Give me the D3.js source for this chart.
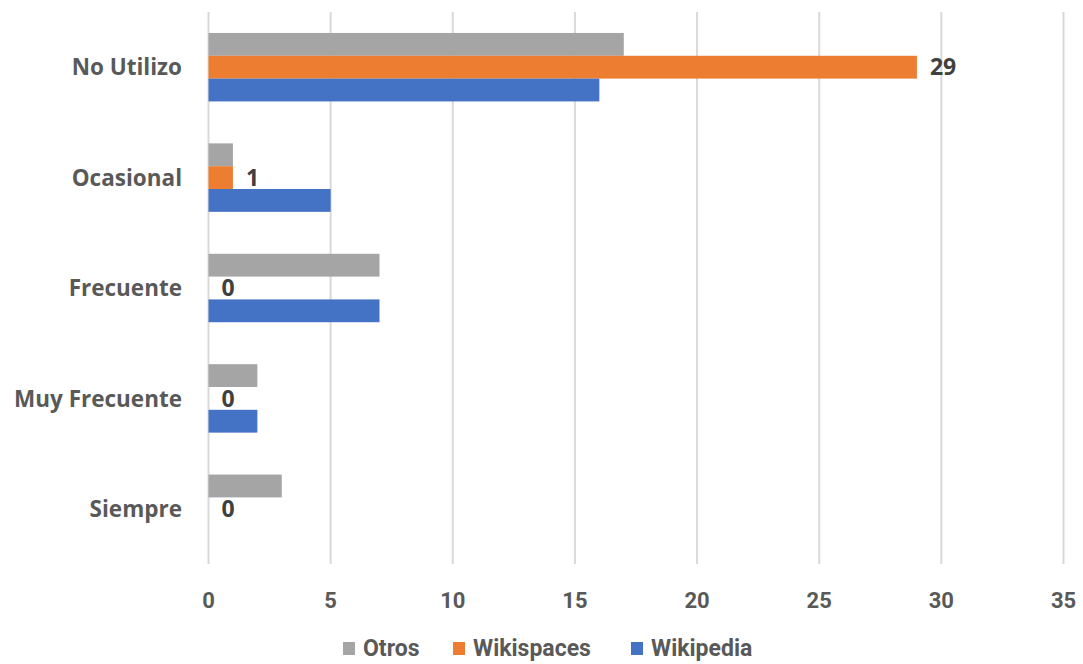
<!DOCTYPE html>
<html>
<head>
<meta charset="utf-8">
<script src="https://cdn.jsdelivr.net/npm/d3@7"></script>
<style>
  body { margin: 0; background: #fff; }
  .cat { font-family: "Open Sans", sans-serif; font-weight: 700; font-size: 22.5px; fill: #595959; }
  .val { font-family: "Open Sans", sans-serif; font-weight: 700; font-size: 23px; fill: #404040; }
  .tick-lbl, .leg { font-family: "Roboto", sans-serif; font-weight: 700; fill: #595959; }
</style>
</head>
<body>
<svg id="chart" width="1083" height="664"></svg>
<script>
var categories = ["No Utilizo", "Ocasional", "Frecuente", "Muy Frecuente", "Siempre"];
var series     = ["Otros", "Wikispaces", "Wikipedia"];
var colors     = ["#A5A5A5", "#ED7D31", "#4472C4"];
var otros      = [17, 1, 7, 2, 3];
var wikispaces = [29, 1, 0, 0, 0];
var wikipedia  = [16, 5, 7, 2, 0];
var xTicks     = [0, 5, 10, 15, 20, 25, 30, 35];

var values = { "Otros": otros, "Wikispaces": wikispaces, "Wikipedia": wikipedia };

var svg = d3.select("#chart");
var m = {left: 208.5, right: 19.5, top: 12, bottom: 100};
var W = +svg.attr("width"), H = +svg.attr("height");

var x = d3.scaleLinear().domain([0, 35]).range([m.left, W - m.right]);
var y0 = d3.scaleBand().domain(categories).range([m.top, H - m.bottom])
           .paddingInner(0.38).paddingOuter(0.19);
var y1 = d3.scaleBand().domain(series).range([0, y0.bandwidth()]);

// gridlines
svg.append("g").selectAll("line")
    .data(xTicks)
    .enter().append("line")
        .attr("x1", function(d){ return x(d); })
        .attr("x2", function(d){ return x(d); })
        .attr("y1", m.top)
        .attr("y2", H - m.bottom)
        .attr("stroke", "#d9d9d9")
        .attr("stroke-width", 2);

// bars
var grp = svg.append("g").selectAll("g")
    .data(categories)
    .enter().append("g")
        .attr("transform", function(d){ return "translate(0," + y0(d) + ")"; });

grp.selectAll("rect")
    .data(function(c, i){ return series.map(function(s, j){ return {s: s, v: values[s][i], col: colors[j]}; }); })
    .enter().append("rect")
        .attr("x", x(0))
        .attr("y", function(d){ return y1(d.s); })
        .attr("width", function(d){ return x(d.v) - x(0); })
        .attr("height", y1.bandwidth())
        .attr("fill", function(d){ return d.col; });

// data labels (Wikispaces only)
grp.append("text")
    .attr("class", "val")
    .attr("x", function(c, i){ return x(wikispaces[i]) + 13; })
    .attr("y", y1("Wikispaces") + y1.bandwidth() / 2)
    .attr("dy", "0.36em")
    .text(function(c, i){ return wikispaces[i]; });

// category labels
svg.append("g").selectAll("text")
    .data(categories)
    .enter().append("text")
        .attr("class", "cat")
        .attr("x", 182)
        .attr("y", function(d){ return y0(d) + y0.bandwidth() / 2; })
        .attr("dy", "0.36em")
        .attr("text-anchor", "end")
        .text(function(d){ return d; });

// x tick labels
svg.append("g").selectAll("text")
    .data(xTicks)
    .enter().append("text")
        .attr("class", "tick-lbl")
        .attr("x", function(d){ return x(d); })
        .attr("y", 600)
        .attr("dy", "0.36em")
        .attr("text-anchor", "middle")
        .attr("font-size", 22)
        .text(function(d){ return d; });

// legend
var legX = [343, 453, 631];
var leg = svg.append("g").selectAll("g")
    .data(series)
    .enter().append("g")
        .attr("transform", function(d, i){ return "translate(" + legX[i] + ",648)"; });
leg.append("rect")
    .attr("x", 0).attr("y", -6)
    .attr("width", 12).attr("height", 13)
    .attr("fill", function(d, i){ return colors[i]; });
leg.append("text")
    .attr("class", "leg")
    .attr("x", 20)
    .attr("dy", "0.36em")
    .attr("font-size", 23)
    .text(function(d){ return d; });
</script>
</body>
</html>
